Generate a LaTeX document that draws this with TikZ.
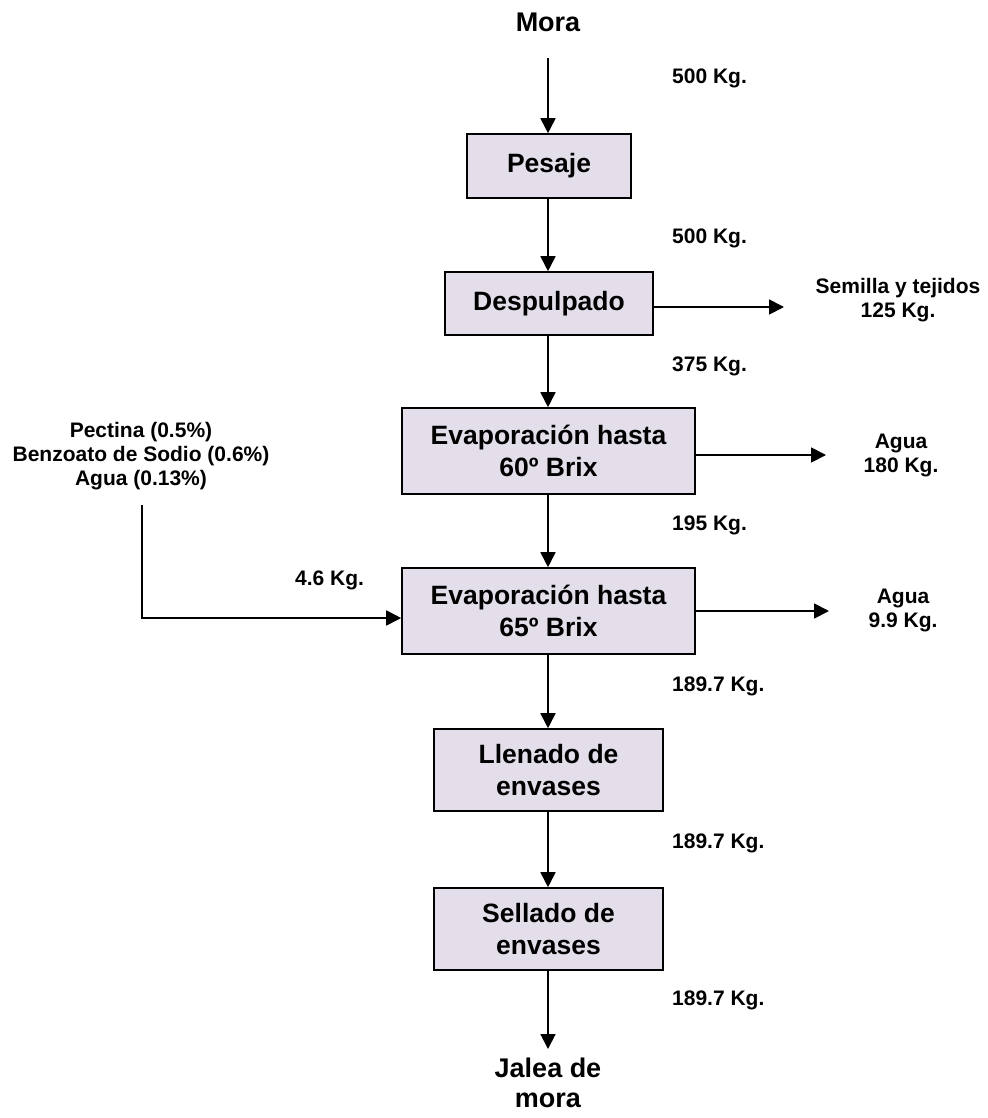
\documentclass[tikz,border=0pt]{standalone}
\usepackage{fontspec}
\setmainfont{Liberation Sans}
\usetikzlibrary{arrows.meta,calc}
\definecolor{boxfill}{RGB}{227,222,234}
\begin{document}
\begin{tikzpicture}[x=1pt,y=-1pt,
  proc/.style={draw=black,line width=1.6pt,fill=boxfill,align=center,inner sep=0pt,
    font=\fontsize{26.5}{32}\selectfont\bfseries},
  lbl/.style={align=center,inner sep=0pt,font=\fontsize{21}{24}\selectfont\bfseries},
  kg/.style={anchor=west,inner sep=0pt,font=\fontsize{21}{24}\selectfont\bfseries},
  ttl/.style={align=center,inner sep=0pt,font=\fontsize{27}{30}\selectfont\bfseries},
  arr/.style={line width=1.8pt,-{Triangle[length=15pt,width=15pt]}},
  ln/.style={line width=1.8pt}]
\useasboundingbox (0,0) rectangle (987,1118);
% nodes
\node[ttl] (mora) at (548,22) {Mora};
\node[proc,minimum width=164pt,minimum height=64pt] (pesaje) at (549,166) {Pesaje};
\node[proc,minimum width=208pt,minimum height=63pt] (desp) at (549,303.5) {Despulpado};
\node[proc,minimum width=293pt,minimum height=86pt] (ev1) at (548.5,451) {Evaporación hasta\\60º Brix};
\node[proc,minimum width=293pt,minimum height=86pt] (ev2) at (548.5,611) {Evaporación hasta\\65º Brix};
\node[proc,minimum width=229pt,minimum height=82pt] (llen) at (548.5,770) {Llenado de\\envases};
\node[proc,minimum width=229pt,minimum height=82pt] (sell) at (548.5,929) {Sellado de\\envases};
\node[ttl] (jalea) at (548,1083) {Jalea de\\mora};
\node[lbl] (semilla) at (898,300) {Semilla y tejidos\\125 Kg.};
\node[lbl] (agua1) at (901,455) {Agua\\180 Kg.};
\node[lbl] (agua2) at (903,610) {Agua\\9.9 Kg.};
\node[lbl] (pect) at (141,456) {Pectina (0.5\%)\\Benzoato de Sodio (0.6\%)\\Agua (0.13\%)};
% labels
\node[kg] (k1) at (672,78) {500 Kg.};
\node[kg] (k2) at (672,238) {500 Kg.};
\node[kg] (k3) at (672,366) {375 Kg.};
\node[kg] (k4) at (672,525) {195 Kg.};
\node[kg] (k5) at (672,686) {189.7 Kg.};
\node[kg] (k6) at (672,843) {189.7 Kg.};
\node[kg] (k7) at (672,1000) {189.7 Kg.};
\node[kg] (k8) at (295,580) {4.6 Kg.};
% coordinates
\coordinate (m0) at (548,58);
\coordinate (j0) at (548,1049);
\coordinate (s1) at (784,307);
\coordinate (a1) at (826,455);
\coordinate (a2) at (829,611);
\coordinate (p0) at (142,505);
\coordinate (p1) at (142,618);
% connectors
\draw[arr] (m0) -- (m0 |- pesaje.north);
\draw[arr] (pesaje.south -| m0) -- (m0 |- desp.north);
\draw[arr] (desp.south -| m0) -- (m0 |- ev1.north);
\draw[arr] (ev1.south -| m0) -- (m0 |- ev2.north);
\draw[arr] (ev2.south -| m0) -- (m0 |- llen.north);
\draw[arr] (llen.south -| m0) -- (m0 |- sell.north);
\draw[arr] (sell.south -| m0) -- (j0);
\draw[arr] (desp.east |- s1) -- (s1);
\draw[arr] (ev1.east |- a1) -- (a1);
\draw[arr] (ev2.east |- a2) -- (a2);
\draw[arr] (p0) -- (p1) -- (p1 -| ev2.west);
\end{tikzpicture}
\end{document}
